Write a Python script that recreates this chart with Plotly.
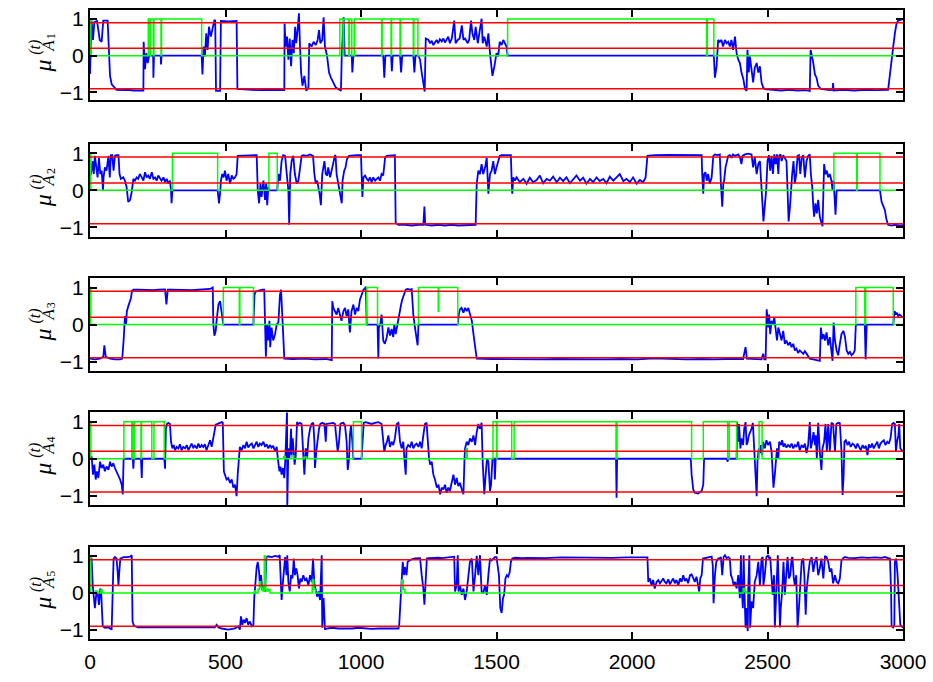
import plotly.graph_objects as go

# ---------------------------------------------------------------- data
T_MAX = 3000
X_TICKS = [0, 500, 1000, 1500, 2000, 2500, 3000]
Y_TICKS = [-1, 0, 1]
THRESHOLDS = [0.9, 0.2, -0.9]
AGENTS = ["1", "2", "3", "4", "5"]

# membership trajectories mu_{A_k}^{(t)}: (t, value)
MU_1 = [(0,-0.5),(6,0.96),(11,0.43),(16,0.92),(26,0.95),(36,0.43),(43,0.38),(49,0.96),(65,0.96),(70,0.25),(74,-0.55),(80,-0.78),(90,-0.87),(98,-0.93),(120,-0.94),(140,-0.93),(160,-0.95),(180,-0.94),(197,-0.95),(198,0.38),(203,-0.37),(208,0.07),(213,-0.2),(218,0),(233,0),(234,-0.6),(236,0),(261,0),(262,-0.24),(264,0),(412,0),(415,-0.51),(419,0.25),(424,-0.02),(429,0.61),(434,0.16),(439,0.79),(446,0.52),(454,0.79),(459,0.98),(462,0.96),(465,-0.96),(480,-0.96),(483,0.95),(510,0.94),(541,0.95),(544,-0.91),(580,-0.93),(620,-0.94),(660,-0.93),(700,-0.94),(717,-0.94),(718,0.88),(722,0.25),(727,0.52),(732,-0.11),(737,0.47),(742,-0.29),(747,0.43),(752,0.07),(757,0.79),(761,0.34),(766,0.7),(771,1.16),(775,0.25),(779,-0.46),(784,-0.82),(791,-0.55),(798,-0.96),(806,-0.87),(809,0.34),(818,0.25),(825,0.38),(833,0.29),(840,0.43),(845,0.7),(850,0.34),(857,0.43),(862,1.05),(867,0.25),(875,-0.02),(882,-0.46),(889,-0.6),(898,-0.73),(907,-0.87),(916,-0.91),(926,-0.96),(929,0),(936,1.05),(940,0),(966,0),(968,-0.46),(972,0),(1082,0),(1086,-0.6),(1090,0),(1111,0),(1114,-0.42),(1117,0),(1144,0),(1148,-0.46),(1152,0),(1193,0),(1197,-0.46),(1201,0),(1212,0),(1218,-0.11),(1224,-0.46),(1230,-0.73),(1235,-0.98),(1239,0.47),(1249,0.43),(1255,0.34),(1261,0.41),(1267,0.29),(1273,0.38),(1279,0.43),(1285,0.34),(1291,0.45),(1298,0.39),(1304,0.47),(1310,0.36),(1316,0.43),(1322,0.52),(1328,0.34),(1335,0.47),(1341,0.79),(1344,0.96),(1349,0.34),(1357,0.43),(1364,0.47),(1372,0.83),(1378,0.43),(1384,0.47),(1394,0.34),(1399,0.43),(1406,0.96),(1411,0.61),(1418,0.43),(1423,0.79),(1431,0.34),(1439,0.79),(1445,1.01),(1449,0.34),(1455,0.52),(1464,0.25),(1470,0.61),(1476,0.07),(1480,-0.29),(1485,-0.55),(1492,-0.3),(1500,0.07),(1506,-0.02),(1512,0.38),(1519,0.29),(1525,0.43),(1531,0.34),(1537,0.25),(1541,0),(2277,0),(2302,0),(2306,-0.6),(2312,-0.29),(2318,0.43),(2324,0.38),(2330,0.43),(2336,0.25),(2343,0.43),(2349,0.34),(2355,0.38),(2361,0.25),(2367,0.43),(2373,0.16),(2380,0.52),(2386,0.07),(2392,-0.11),(2398,-0.2),(2404,-0.46),(2411,-0.64),(2417,-0.91),(2423,-0.96),(2426,0.16),(2431,-0.46),(2435,-0.02),(2441,-0.46),(2447,-0.73),(2453,-0.33),(2460,-0.2),(2466,-0.46),(2472,-0.29),(2478,-0.73),(2484,-0.87),(2490,-0.91),(2520,-0.93),(2550,-0.95),(2580,-0.93),(2610,-0.95),(2640,-0.94),(2656,-0.96),(2659,0.16),(2665,-0.02),(2669,-0.2),(2675,-0.51),(2681,-0.6),(2687,-0.82),(2697,-0.91),(2730,-0.94),(2740,-0.93),(2742,-0.75),(2744,-0.95),(2780,-0.93),(2820,-0.95),(2860,-0.93),(2900,-0.94),(2945,-0.93),(2952,-0.46),(2958,0),(2964,0.25),(2970,0.61),(2976,0.88),(2982,0.96),(3000,1.0)]

MU_2 = [(0,0.4),(4,0.44),(9,0.79),(14,0.44),(18,0.93),(23,0.53),(28,0.35),(33,0.88),(38,0.44),(43,0.53),(48,0),(50,0.35),(55,0.62),(61,0.53),(68,0.93),(73,0.35),(77,0.95),(82,0.95),(87,0.53),(92,0.93),(97,0.95),(105,0.95),(109,0.44),(114,0.31),(123,0.35),(129,0.26),(135,0.09),(141,-0.31),(148,-0.26),(154,-0.04),(160,0.31),(166,0.26),(172,0.35),(178,0.31),(184,0.44),(191,0.35),(197,0.26),(203,0.49),(209,0.35),(215,0.4),(221,0.31),(228,0.49),(234,0.31),(240,0.35),(246,0.26),(252,0.4),(258,0.31),(264,0.26),(271,0.35),(277,0.22),(283,0.31),(289,0.18),(295,0.26),(299,0),(301,-0.35),(304,0),(471,0),(476,-0.35),(481,0),(483,0.26),(488,0.44),(493,0.35),(498,0.53),(504,0.26),(510,0.44),(517,0.18),(523,0.4),(529,0.31),(535,0.35),(541,0.44),(545,0.93),(580,0.95),(615,0.95),(619,0),(624,-0.35),(629,0.18),(633,-0.18),(640,0.26),(646,-0.26),(650,0.18),(654,-0.4),(658,0.09),(660,0),(691,0),(695,0.44),(701,0.26),(707,0.79),(713,0.95),(720,0.93),(726,0.44),(732,0),(735,-0.93),(739,0.44),(744,0.79),(750,0.93),(756,0.44),(763,0.18),(769,0.26),(775,0.62),(781,0.93),(787,0.95),(799,0.93),(812,0.97),(823,0.93),(828,0.44),(833,0.18),(838,0.26),(843,0.09),(847,-0.09),(852,-0.4),(857,0.44),(865,0.79),(870,0.44),(875,0.4),(879,0.62),(886,0.35),(892,0.53),(898,0.71),(904,0.95),(906,0.93),(910,0.44),(916,0.18),(922,0),(929,-0.35),(932,0.26),(938,0.53),(943,0.62),(948,0.84),(956,0.93),(966,0.94),(984,0.95),(1000,0.95),(1002,0.35),(1005,-0.18),(1009,0.35),(1015,0.4),(1021,0.31),(1027,0.26),(1033,0.35),(1039,0.22),(1045,0.35),(1052,0.26),(1058,0.31),(1064,0.35),(1070,0.26),(1076,0.44),(1082,0.4),(1089,0.88),(1095,0.93),(1107,0.94),(1125,0.95),(1128,-0.88),(1138,-0.93),(1162,-0.93),(1187,-0.95),(1212,-0.93),(1230,-0.93),(1234,-0.44),(1237,-0.93),(1261,-0.95),(1285,-0.93),(1310,-0.95),(1335,-0.93),(1359,-0.95),(1384,-0.94),(1408,-0.93),(1423,-0.93),(1427,0.18),(1433,0.53),(1439,0.44),(1445,0.71),(1451,0.44),(1458,0.62),(1464,0.88),(1470,-0.09),(1476,0.44),(1482,0.53),(1488,0.79),(1494,0.44),(1500,0.62),(1506,0.79),(1512,0.93),(1519,0.95),(1531,0.95),(1549,0.97),(1553,0.95),(1556,0.26),(1558,-0.09),(1562,0.35),(1568,0.26),(1574,0.35),(1586,0.22),(1599,0.31),(1611,0.18),(1623,0.34),(1635,0.22),(1648,0.28),(1660,0.4),(1672,0.19),(1685,0.31),(1697,0.26),(1709,0.37),(1722,0.22),(1734,0.34),(1746,0.25),(1758,0.35),(1771,0.19),(1783,0.31),(1795,0.4),(1808,0.26),(1820,0.34),(1832,0.18),(1845,0.31),(1857,0.22),(1869,0.35),(1881,0.25),(1894,0.31),(1906,0.19),(1918,0.37),(1931,0.26),(1943,0.34),(1955,0.44),(1968,0.25),(1980,0.31),(1992,0.22),(2004,0.35),(2017,0.18),(2029,0.28),(2041,0.22),(2050,0.34),(2057,0.93),(2084,0.95),(2134,0.96),(2183,0.95),(2232,0.96),(2257,0.95),(2259,0.44),(2263,-0.09),(2266,0.44),(2271,0.49),(2276,0.26),(2281,0.44),(2287,0.18),(2294,0.35),(2300,0.93),(2306,0.97),(2316,0.95),(2324,0.97),(2328,0.18),(2330,-0.09),(2333,-0.44),(2337,0.18),(2340,0.26),(2345,0.62),(2350,0.79),(2355,0.93),(2361,0.95),(2367,0.88),(2373,0.97),(2380,0.93),(2386,0.95),(2392,0.97),(2398,0.9),(2404,0.71),(2408,0.93),(2417,0.97),(2429,0.99),(2441,0.97),(2447,0.62),(2453,0.9),(2460,0.44),(2466,0.71),(2472,0.79),(2478,0.18),(2482,-0.44),(2485,-0.84),(2490,-0.44),(2495,0),(2500,0.79),(2505,0.95),(2510,0.53),(2515,0.93),(2520,0.44),(2525,0.97),(2530,0.71),(2535,0.97),(2540,0.44),(2543,0.93),(2548,0.97),(2552,0.79),(2558,0.95),(2564,0.88),(2570,0.79),(2574,0),(2578,-0.84),(2583,-0.44),(2586,0),(2591,0.44),(2596,0.79),(2601,0.18),(2606,0.44),(2611,0.93),(2616,0.95),(2621,0.44),(2626,0.88),(2632,0.95),(2638,0.35),(2644,0.79),(2650,0.93),(2656,0.97),(2660,0.44),(2665,0.09),(2669,-0.44),(2672,-0.71),(2677,-0.35),(2682,-0.62),(2687,-0.26),(2693,-0.71),(2699,-0.88),(2703,-0.97),(2707,0.18),(2709,0.71),(2714,0.44),(2719,0.53),(2724,0.35),(2730,0.44),(2736,0.26),(2740,0),(2744,0.26),(2747,-0.09),(2751,-0.66),(2755,0),(2915,0),(2921,-0.31),(2927,-0.44),(2933,-0.53),(2939,-0.79),(2945,-0.93),(2958,-0.95),(2970,-0.93),(2985,-0.95),(3000,-0.95)]

MU_3 = [(0,-0.92),(18,-0.94),(37,-0.92),(49,-0.87),(53,-0.56),(58,-0.87),(74,-0.92),(92,-0.94),(111,-0.94),(119,-0.92),(124,-0.43),(127,0.1),(129,0.23),(133,0.01),(136,0.36),(141,0.49),(146,0.63),(151,0.71),(155,0.91),(160,0.94),(178,0.94),(197,0.93),(215,0.94),(234,0.93),(252,0.94),(277,0.95),(282,0.54),(287,0.94),(301,0.94),(326,0.93),(351,0.94),(375,0.93),(400,0.94),(424,0.95),(443,0.96),(453,1.0),(455,0.01),(459,-0.3),(464,-0.17),(467,0.1),(474,0.54),(480,0.63),(486,0.27),(492,0),(603,0),(607,0.8),(611,0.89),(619,0.91),(627,0.93),(636,0.94),(643,0.94),(646,0.19),(649,-0.87),(653,0.01),(658,-0.43),(662,0.1),(665,-0.61),(670,-0.08),(676,-0.43),(683,-0.26),(689,0.01),(695,0.05),(701,0.8),(705,0.94),(710,0.27),(713,-0.43),(717,-0.92),(750,-0.93),(790,-0.92),(830,-0.94),(870,-0.93),(892,-0.96),(894,0.63),(898,0.45),(904,0.36),(910,0.27),(916,0.45),(922,0.27),(928,0.1),(935,0.36),(941,0.45),(947,0.23),(953,0.41),(959,-0.21),(965,0.36),(972,0.54),(978,0.27),(984,0.45),(990,0.36),(996,0.67),(1002,0.8),(1009,0.94),(1015,0.98),(1018,1.02),(1021,0),(1061,0),(1064,-0.92),(1066,-0.08),(1071,0),(1076,0.27),(1082,-0.43),(1088,-0.52),(1095,-0.34),(1101,-0.08),(1107,-0.3),(1113,-0.12),(1119,-0.34),(1123,0.01),(1128,-0.26),(1132,-0.08),(1138,0.1),(1144,0.36),(1148,0.54),(1152,0.67),(1160,0.85),(1165,0.94),(1172,0.96),(1181,0.94),(1187,0.96),(1193,0.27),(1199,-0.08),(1205,-0.34),(1209,-0.56),(1212,0),(1357,0),(1361,0.27),(1365,0.41),(1371,0.45),(1378,0.32),(1384,0.45),(1390,0.36),(1396,0.45),(1402,0.27),(1409,0.1),(1415,-0.26),(1421,-0.61),(1427,-0.92),(1480,-0.93),(1540,-0.94),(1600,-0.93),(1660,-0.94),(1720,-0.93),(1780,-0.94),(1840,-0.93),(1900,-0.94),(1960,-0.93),(2020,-0.94),(2080,-0.91),(2140,-0.93),(2200,-0.94),(2260,-0.93),(2300,-0.94),(2350,-0.93),(2410,-0.93),(2419,-0.61),(2424,-0.92),(2478,-0.94),(2484,-0.79),(2488,-0.94),(2493,-0.94),(2497,0.41),(2500,0.19),(2503,-0.08),(2506,0.27),(2510,-0.26),(2515,0.1),(2521,0.01),(2525,0.19),(2530,-0.17),(2535,-0.43),(2540,-0.08),(2546,-0.26),(2552,-0.43),(2558,-0.17),(2564,-0.52),(2570,-0.43),(2576,-0.56),(2583,-0.48),(2589,-0.61),(2595,-0.52),(2601,-0.7),(2607,-0.65),(2613,-0.77),(2619,-0.7),(2626,-0.74),(2632,-0.79),(2638,-0.72),(2644,-0.79),(2650,-0.87),(2656,-0.92),(2669,-0.94),(2681,-0.96),(2693,-0.98),(2697,-0.08),(2702,-0.39),(2707,-0.26),(2712,-0.43),(2718,-0.21),(2724,-0.56),(2730,-0.34),(2736,-0.7),(2740,-0.98),(2744,0.05),(2749,-0.43),(2755,-0.7),(2761,-0.83),(2767,-0.52),(2773,-0.26),(2780,-0.17),(2786,-0.34),(2792,-0.7),(2798,-0.79),(2804,-0.74),(2810,-0.83),(2816,-0.79),(2822,-0.7),(2826,0),(2859,0),(2862,-0.94),(2866,0),(2964,0),(2969,0.36),(2974,0.27),(2978,0.32),(2982,0.23),(2988,0.27),(2994,0.22),(3000,0.19)]

MU_4 = [(0,0.01),(6,0.06),(11,-0.43),(16,-0.16),(21,-0.56),(26,-0.34),(31,-0.52),(37,-0.08),(43,-0.25),(49,-0.16),(55,-0.34),(61,-0.21),(68,-0.3),(74,-0.08),(80,-0.21),(86,-0.12),(92,-0.25),(98,-0.34),(105,-0.43),(111,-0.56),(117,-0.7),(121,-0.96),(124,0),(158,0),(160,-0.27),(162,0),(188,0),(191,-0.52),(193,0),(274,0),(277,-0.27),(280,0.81),(284,0.94),(289,0.97),(295,0.94),(299,0.46),(304,0.28),(309,0.37),(314,0.23),(320,0.32),(326,0.28),(332,0.39),(338,0.23),(344,0.32),(351,0.28),(357,0.37),(363,0.23),(369,0.32),(375,0.41),(381,0.3),(387,0.35),(394,0.28),(400,0.41),(406,0.3),(412,0.37),(418,0.32),(424,0.39),(430,0.23),(437,0.41),(443,0.5),(449,0.32),(455,0.55),(459,0.81),(464,0.92),(471,0.94),(480,0.97),(486,0.99),(490,0.97),(492,0.28),(494,-0.34),(498,-0.43),(504,-0.56),(510,-0.52),(517,-0.65),(523,-0.56),(529,-0.78),(535,-0.7),(541,-1.01),(545,-0.43),(550,0.1),(553,0.32),(560,0.23),(566,0.37),(572,0.28),(578,0.46),(584,0.3),(590,0.37),(597,0.41),(603,0.28),(609,0.37),(615,0.46),(621,0.32),(627,0.41),(633,0.37),(640,0.46),(646,0.32),(652,0.39),(658,0.28),(664,0.37),(670,0.3),(676,0.35),(683,0.19),(689,0.32),(693,0.01),(695,-0.16),(699,-0.34),(703,-0.21),(707,-0.43),(712,-0.25),(717,-0.52),(721,0.01),(723,0.46),(727,1.3),(728,-1.3),(732,0.28),(735,0.01),(738,0.19),(742,0.81),(744,0.1),(748,0.55),(752,0.19),(755,-0.16),(759,0.06),(764,0.99),(769,0.94),(775,0.97),(781,0.94),(787,0.19),(791,-0.43),(796,0.28),(801,0.01),(806,0.55),(812,0.81),(818,0.94),(824,0.97),(828,0.46),(830,-0.25),(835,0.19),(840,0.5),(845,0.81),(850,0.94),(857,0.97),(865,0.94),(870,0.46),(873,0.94),(886,0.96),(898,0.97),(904,0.94),(910,0.46),(914,0.19),(919,0.46),(924,0.94),(929,0.96),(935,0.97),(941,0.9),(947,0.46),(951,-0.3),(956,0.01),(959,0.63),(963,0.9),(968,0.46),(972,0),(1002,0),(1006,0.55),(1010,0.97),(1017,0.99),(1027,0.97),(1039,0.94),(1052,0.97),(1064,0.99),(1076,0.94),(1082,0.46),(1086,0.19),(1091,0.37),(1096,0.46),(1101,0.63),(1107,0.32),(1113,0.46),(1119,0.37),(1125,0.55),(1132,0.94),(1138,0.97),(1144,0.46),(1150,0.28),(1156,0.46),(1160,0.01),(1165,-0.43),(1168,0.28),(1174,0.37),(1181,0.32),(1187,0.46),(1193,0.28),(1199,0.37),(1205,0.41),(1212,0.32),(1218,0.46),(1224,0.28),(1230,0.63),(1236,0.94),(1242,0.97),(1246,0.46),(1251,0.01),(1255,-0.16),(1261,-0.08),(1267,-0.43),(1273,-0.56),(1280,-0.78),(1286,-0.7),(1292,-0.96),(1298,-0.78),(1304,-0.83),(1310,-0.7),(1316,-0.92),(1322,-0.78),(1328,-0.87),(1335,-0.61),(1341,-0.43),(1347,-0.7),(1353,-0.52),(1359,-0.74),(1365,-0.65),(1372,-0.83),(1378,-0.96),(1382,0.01),(1384,0.28),(1390,0.46),(1396,0.37),(1402,0.55),(1409,0.46),(1415,0.63),(1421,0.37),(1427,0.72),(1433,0.94),(1439,0.81),(1445,0.97),(1449,-0.08),(1453,-0.78),(1455,-0.96),(1460,-0.43),(1465,0.01),(1470,-0.08),(1476,-0.87),(1480,-0.7),(1485,0),(1492,0),(1494,-0.56),(1497,0),(1941,0),(1943,-1.05),(1945,0),(2217,0),(2220,-0.43),(2226,-0.83),(2232,-0.92),(2244,-0.94),(2257,-0.87),(2263,-0.7),(2266,0),(2350,0),(2353,-0.08),(2355,0.06),(2358,0),(2386,0),(2388,0.99),(2392,0.46),(2395,0.94),(2400,0.28),(2404,0.55),(2410,0.37),(2414,0.81),(2419,0.99),(2423,0.37),(2427,0.46),(2431,0.63),(2436,0.72),(2441,0.81),(2446,0.97),(2451,0.28),(2456,-0.25),(2460,-1.01),(2463,-0.08),(2468,0.28),(2472,0.15),(2476,0.37),(2480,0.1),(2484,0.46),(2490,0.28),(2496,0.5),(2502,0.37),(2509,0.46),(2515,0.19),(2518,-0.43),(2522,-0.78),(2527,-0.43),(2531,0.1),(2535,0.28),(2540,0.01),(2543,0.46),(2550,0.37),(2554,0.5),(2559,0.32),(2564,0.41),(2570,0.3),(2576,0.37),(2583,0.32),(2589,0.41),(2595,0.28),(2601,0.37),(2607,0.32),(2613,0.46),(2619,0.23),(2626,0.37),(2632,0.3),(2638,0.41),(2644,0.15),(2650,0.37),(2656,0.99),(2660,0.28),(2665,0.46),(2670,0.72),(2675,0.37),(2678,0.63),(2682,0.01),(2687,0.97),(2693,0.19),(2699,-0.3),(2703,0.28),(2709,0.46),(2714,0.94),(2719,0.19),(2724,0.94),(2730,0.19),(2736,0.97),(2742,0.94),(2749,0.19),(2754,0.94),(2761,0.97),(2767,0.96),(2773,0.19),(2777,-0.98),(2781,-0.43),(2784,0.46),(2789,0.5),(2795,0.37),(2801,0.46),(2807,0.32),(2814,0.41),(2820,0.37),(2826,0.28),(2832,0.41),(2838,0.32),(2844,0.23),(2851,0.37),(2857,0.28),(2863,0.35),(2869,0.1),(2874,0.39),(2880,0.3),(2886,0.41),(2892,0.28),(2898,0.37),(2905,0.46),(2911,0.28),(2917,0.41),(2923,0.46),(2929,0.5),(2935,0.37),(2942,0.46),(2948,0.41),(2954,0.55),(2960,0.94),(2965,0.97),(2970,0.94),(2974,0.19),(2978,0.46),(2983,0.63),(2986,0.94),(2990,0.28),(3000,0.19)]

MU_5 = [(0,0.95),(6,0.93),(10,0.21),(14,-0.14),(18,-0.41),(23,-0.05),(28,0.04),(33,-0.32),(38,0.12),(41,0.04),(43,-0.41),(47,-0.9),(55,-0.94),(68,-0.93),(80,-0.99),(84,0.3),(87,0.93),(92,0.97),(98,0.93),(102,0.57),(105,0.21),(108,0.57),(112,0.93),(117,0.94),(123,0.97),(135,0.97),(148,0.98),(154,1.02),(157,-0.77),(161,-0.86),(166,-0.9),(178,-0.93),(220,-0.93),(270,-0.94),(320,-0.93),(370,-0.94),(420,-0.93),(461,-0.93),(467,-0.86),(474,-0.93),(486,-0.96),(510,-0.99),(535,-0.96),(547,-0.9),(553,-0.99),(557,-0.63),(562,-0.86),(567,-0.72),(572,-0.81),(578,-0.68),(584,-0.86),(590,-0.77),(597,-0.9),(603,-0.86),(606,-0.14),(611,0.48),(615,0.7),(619,0.84),(624,0.57),(627,0.21),(631,0.48),(636,0.08),(641,0.17),(646,0.04),(651,0.97),(658,0.99),(670,0.97),(683,1.0),(695,0.98),(700,1.02),(704,0.48),(707,-0.19),(711,0.21),(715,0.57),(720,0.97),(725,0.48),(728,1.02),(732,0.3),(737,0.04),(742,0.48),(747,0.39),(752,0.93),(756,0.48),(761,0.66),(766,0.48),(771,0.12),(776,0.39),(781,0.3),(787,0.48),(793,0.35),(799,0.39),(806,0.21),(812,0.48),(818,0.3),(823,0.93),(828,0.26),(833,0.12),(838,-0.1),(843,0.04),(849,-0.19),(855,1.02),(857,-0.94),(862,-0.14),(867,-0.99),(873,-0.96),(892,-0.94),(916,-0.96),(941,-0.97),(966,-0.96),(990,-0.94),(1015,-0.96),(1039,-0.97),(1064,-0.96),(1089,-0.96),(1113,-0.96),(1138,-0.96),(1141,-0.86),(1145,-0.41),(1150,0.39),(1154,0.84),(1159,0.48),(1162,0.7),(1168,0.48),(1172,0.84),(1181,0.88),(1187,0.91),(1199,0.93),(1212,0.95),(1218,0.94),(1224,0.48),(1230,0.12),(1234,-0.32),(1239,0.48),(1243,0.93),(1249,0.94),(1261,0.95),(1273,0.96),(1285,0.95),(1298,0.94),(1310,0.95),(1322,0.96),(1335,0.97),(1344,0.98),(1347,0.04),(1353,0.21),(1357,1.02),(1360,0.04),(1365,0.21),(1372,-0.05),(1378,0.12),(1384,-0.19),(1390,0.04),(1396,0.39),(1402,0.84),(1409,0.93),(1415,0.04),(1421,0.48),(1427,1.0),(1433,0.48),(1439,1.02),(1445,0.04),(1451,-0.01),(1458,0.21),(1464,-0.05),(1470,0.48),(1476,0.93),(1482,0.88),(1488,0.94),(1494,0.97),(1500,0.97),(1509,0.48),(1514,-0.41),(1519,-0.54),(1524,-0.14),(1528,-0.05),(1533,0.39),(1538,0.48),(1543,0.44),(1549,0.57),(1553,0.84),(1558,0.93),(1568,0.95),(1592,0.94),(1617,0.95),(1679,0.94),(1740,0.96),(1802,0.95),(1863,0.96),(1925,0.95),(1986,0.96),(2048,0.97),(2057,0.96),(2060,0.3),(2066,0.39),(2072,0.21),(2078,0.35),(2084,0.12),(2091,0.3),(2097,0.35),(2103,0.26),(2109,0.32),(2115,0.39),(2121,0.3),(2127,0.26),(2134,0.37),(2140,0.23),(2146,0.32),(2152,0.39),(2158,0.26),(2164,0.35),(2171,0.21),(2177,0.39),(2183,0.3),(2189,0.48),(2195,0.32),(2201,0.39),(2207,0.26),(2214,0.48),(2220,0.5),(2226,0.39),(2232,0.3),(2238,0.44),(2244,0.21),(2248,0.04),(2252,0.39),(2257,0.48),(2262,0.93),(2269,0.94),(2281,0.97),(2294,0.98),(2298,0.75),(2301,-0.28),(2306,0.48),(2311,0.84),(2318,0.93),(2324,0.94),(2328,0.97),(2333,0.48),(2338,0.97),(2343,1.02),(2349,0.94),(2355,0.97),(2361,0.93),(2365,0.48),(2370,0.39),(2375,0.21),(2380,0.3),(2386,0.12),(2392,0.48),(2398,-0.14),(2402,1.02),(2404,0.21),(2409,-0.41),(2412,1.02),(2415,0.04),(2419,-0.94),(2423,-0.41),(2427,-1.03),(2429,0.12),(2433,1.02),(2436,-0.94),(2441,-0.23),(2447,-0.41),(2453,0.3),(2460,0.48),(2466,0.84),(2472,0.21),(2478,0.93),(2482,0.97),(2485,0.21),(2490,0.48),(2496,0.97),(2503,1.02),(2506,0.93),(2510,0.97),(2515,0.39),(2519,-0.05),(2524,0.48),(2527,-0.93),(2531,-0.23),(2535,0.84),(2538,1.02),(2542,0.04),(2546,-0.93),(2549,-0.41),(2554,0.04),(2559,0.84),(2564,-0.05),(2569,0.48),(2574,0.97),(2579,0.39),(2584,0.48),(2589,0.93),(2592,0.97),(2597,0.39),(2601,0.21),(2606,0.48),(2611,-0.93),(2616,-0.41),(2621,0.21),(2626,0.84),(2632,0.93),(2636,0.48),(2641,-0.59),(2644,0.04),(2650,0.48),(2656,0.84),(2663,0.97),(2669,0.57),(2675,0.84),(2681,0.97),(2687,0.48),(2693,0.66),(2699,0.93),(2706,0.39),(2712,1.0),(2718,0.97),(2724,0.84),(2730,0.57),(2736,0.66),(2742,0.26),(2749,0.48),(2755,0.3),(2761,0.26),(2767,0.39),(2773,0.88),(2779,0.94),(2786,0.97),(2798,0.95),(2822,0.94),(2847,0.96),(2872,0.95),(2896,0.96),(2921,0.95),(2933,0.97),(2945,0.94),(2952,0.93),(2956,0.04),(2958,-0.9),(2964,-0.93),(2968,-0.86),(2970,0.84),(2975,0.93),(2980,0.48),(2985,-0.41),(2990,-0.86),(3000,-0.94)]

# selection indicator (step signal): (t, value held from t onwards)
SEL_1 = [(0,1),(3,0),(215,1),(221,0),(223,1),(234,0),(236,1),(262,0),(264,1),(412,0),(922,1),(934,0),(936,1),(955,0),(957,1),(966,0),(975,1),(1076,0),(1078,1),(1111,0),(1113,1),(1144,0),(1146,1),(1193,0),(1195,1),(1210,0),(1541,1),(2275,0),(2278,1),(2302,0),(3000,0)]
SEL_2 = [(0,1),(3,0),(304,1),(471,0),(660,1),(691,0),(2745,1),(2829,0),(2831,1),(2915,0),(3000,0)]
SEL_3 = [(0,1),(3,0),(492,1),(551,0),(553,1),(603,0),(1021,1),(1061,0),(1212,1),(1285,0.36),(1287,1),(1357,0),(2826,1),(2859,0),(2862,1),(2964,0),(3000,0)]
SEL_4 = [(0,1),(3,0),(125,1),(154,0),(156,1),(162,0),(164,1),(188,0),(190,1),(228,0),(236,1),(274,0),(714,0.06),(720,0),(745,0.08),(752,0),(790,0.05),(800,0),(972,1),(1002,0),(1388,0.28),(1392,0),(1487,1),(1500,0),(1502,1),(1556,0),(1565,1),(1941,0),(1945,1),(2220,0),(2263,1),(2353,0),(2359,1),(2386,0),(2469,1),(2480,0),(3000,0)]
SEL_5 = [(0,1),(3,0),(20,0.05),(28,0),(40,0.08),(46,0),(607,0.05),(612,0),(620,0.1),(625,0.3),(630,0.15),(636,0.05),(643,1),(648,0.1),(652,0.05),(658,0.1),(664,0),(820,0.35),(826,0.1),(832,0),(1150,0.35),(1156,0.1),(1162,0),(2410,0.12),(2416,0.03),(2422,0),(3000,0)]

MU = [MU_1, MU_2, MU_3, MU_4, MU_5]
SEL = [SEL_1, SEL_2, SEL_3, SEL_4, SEL_5]

# ---------------------------------------------------------------- layout
W, H = 933, 682
PLOT_LEFT, PLOT_RIGHT = 90, 903
# (top px, bottom px, y-range) of each panel
PANELS = [
    (8.0, 98.5, [-1.2, 1.25]),
    (143.3, 236.7, [-1.25, 1.25]),
    (278.7, 372.1, [-1.25, 1.25]),
    (414.1, 507.5, [-1.25, 1.25]),
    (549.5, 642.9, [-1.25, 1.25]),
]

BLUE, GREEN, RED = "#0000ff", "#00ff00", "#ff0000"
TICK_FONT = dict(family="Liberation Sans, Arial, sans-serif", size=21, color="black")
LABEL_FONT = "Liberation Serif, DejaVu Serif, serif"


def px_to_paper_x(px):
    return (px - PLOT_LEFT) / (PLOT_RIGHT - PLOT_LEFT)


def px_to_paper_y(py):
    return 1 - py / H


def label_piece(text, px, py, size, italic=True):
    """One rotated piece of the y-axis label, centred on pixel (px, py)."""
    return dict(text=text, x=px_to_paper_x(px), y=px_to_paper_y(py),
                xref="paper", yref="paper", showarrow=False, textangle=-90,
                xanchor="center", yanchor="middle",
                font=dict(family=LABEL_FONT, size=size, color="black",
                          style="italic" if italic else "normal"))


fig = go.Figure()
layout = dict(
    width=W, height=H,
    margin=dict(l=PLOT_LEFT, r=W - PLOT_RIGHT, t=0, b=0),
    paper_bgcolor="white", plot_bgcolor="white",
    showlegend=False,
    annotations=[],
)

axis_style = dict(
    showline=True, linecolor="black", linewidth=2, mirror="ticks",
    ticks="inside", ticklen=7, tickwidth=1.5, tickcolor="black",
    showgrid=False, zeroline=False, tickfont=TICK_FONT,
)

for i, (top, bottom, yrange) in enumerate(PANELS):
    sfx = "" if i == 0 else str(i + 1)
    xa, ya = "x" + sfx, "y" + sfx

    t, v = zip(*MU[i])
    fig.add_trace(go.Scatter(x=t, y=v, mode="lines", xaxis=xa, yaxis=ya,
                             line=dict(color=BLUE, width=1.8), hoverinfo="skip"))
    gt, gv = zip(*SEL[i])
    fig.add_trace(go.Scatter(x=gt, y=gv, mode="lines", xaxis=xa, yaxis=ya,
                             line=dict(color=GREEN, width=1.5, shape="hv"), hoverinfo="skip"))
    for level in THRESHOLDS:
        fig.add_trace(go.Scatter(x=[0, T_MAX], y=[level, level], mode="lines",
                                 xaxis=xa, yaxis=ya,
                                 line=dict(color=RED, width=1.5), hoverinfo="skip"))

    layout["xaxis" + sfx] = dict(domain=[0, 1], range=[0, T_MAX], tickvals=X_TICKS,
                                 showticklabels=(i == 4), ticklabelstandoff=3,
                                 anchor=ya, **axis_style)
    layout["yaxis" + sfx] = dict(domain=[px_to_paper_y(bottom), px_to_paper_y(top)],
                                 range=yrange, tickvals=Y_TICKS,
                                 anchor=xa, **axis_style)

    # rotated axis label  mu_{A_k}^{(t)}, placed around the zero line
    lo, hi = yrange
    y0 = top + (bottom - top) * hi / (hi - lo)
    layout["annotations"] += [
        label_piece("μ", 43, y0 + 11, 24),
        label_piece("(t)", 35.5, y0 - 8.5, 16),
        label_piece("A", 48.5, y0 - 9.5, 17),
        label_piece(AGENTS[i], 51, y0 - 19.5, 12, italic=False),
    ]

fig.update_layout(**layout)
fig.write_html("out.html")
